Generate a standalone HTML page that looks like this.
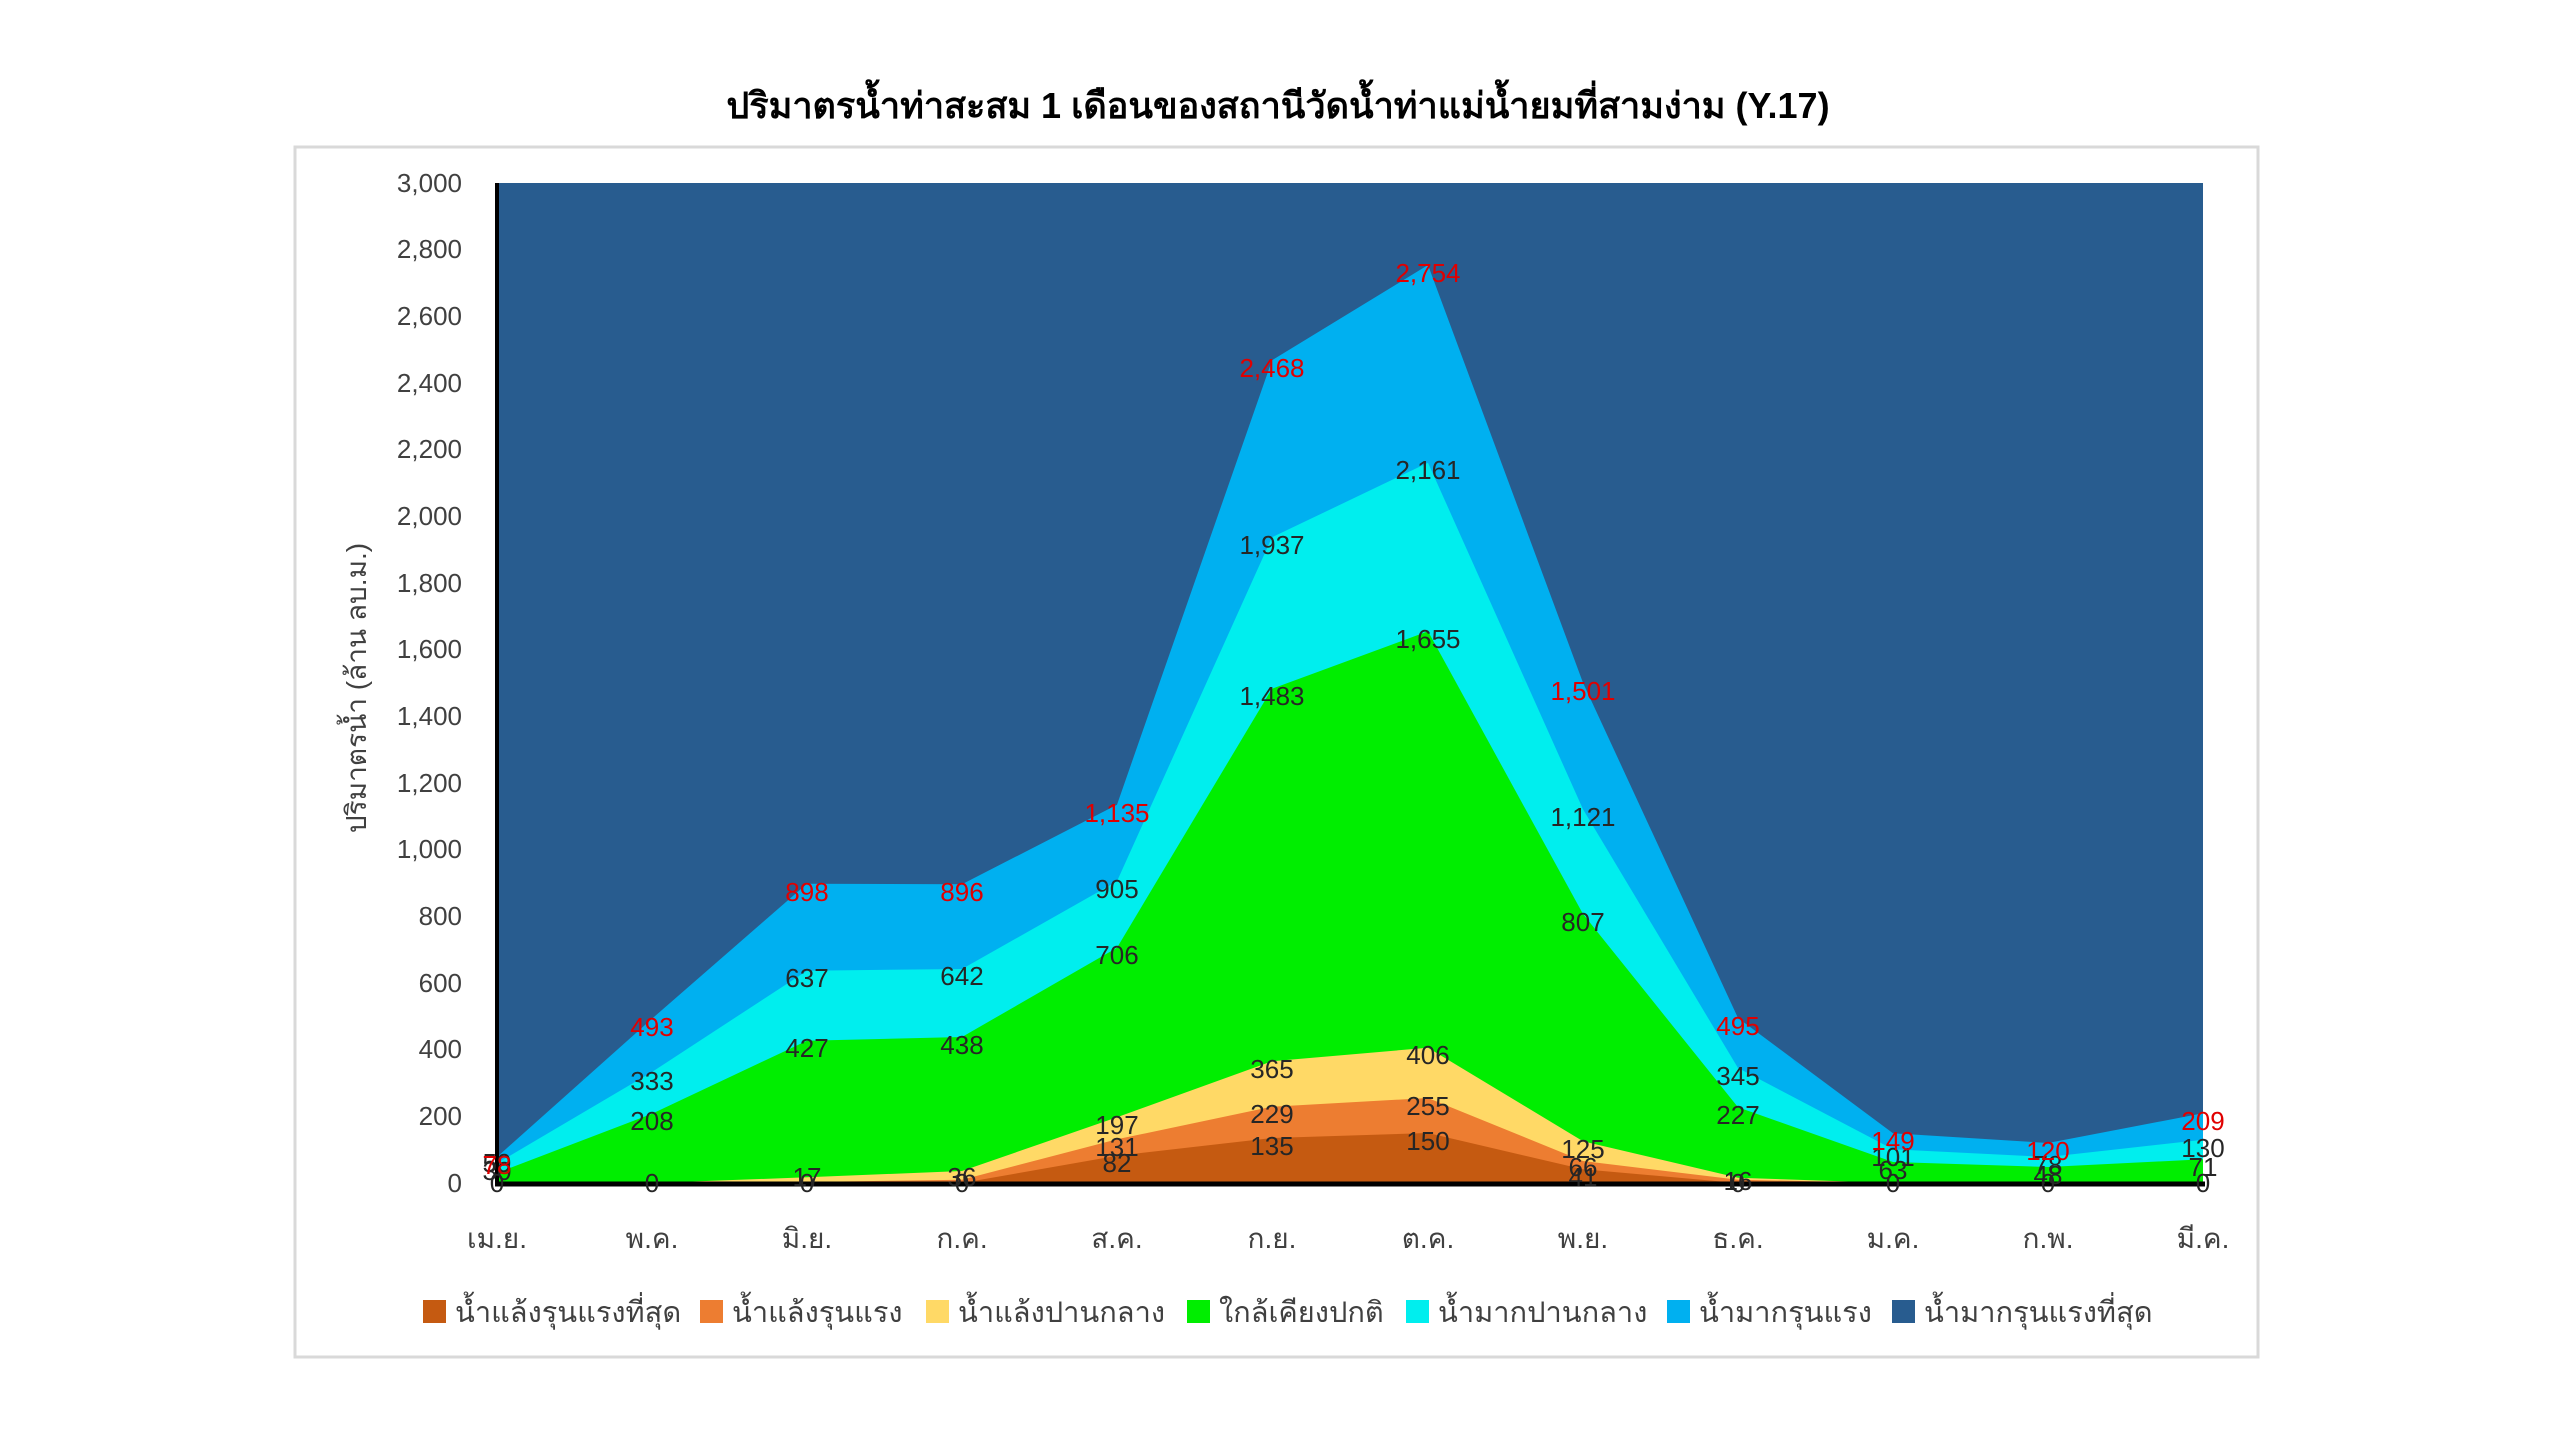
<!DOCTYPE html>
<html><head><meta charset="utf-8">
<style>
html,body{margin:0;padding:0;background:#fff;}
svg{display:block;}
text{font-family:"Liberation Sans","Noto Sans CJK SC","WenQuanYi Zen Hei",sans-serif;}
</style></head>
<body>
<svg width="2560" height="1440" viewBox="0 0 2560 1440" xmlns="http://www.w3.org/2000/svg">
<rect x="0" y="0" width="2560" height="1440" fill="#fff"/>
<rect x="295" y="147" width="1963" height="1210" fill="#fff" stroke="#d9d9d9" stroke-width="3"/>
<text x="1278" y="118" font-size="36" font-weight="bold" text-anchor="middle" fill="#000">ปริมาตรน้ำท่าสะสม 1 เดือนของสถานีวัดน้ำท่าแม่น้ำยมที่สามง่าม (Y.17)</text>

<!-- plot -->
<rect x="497" y="183" width="1706" height="1000" fill="#285c8f"/>
<polygon fill="#00b0f0" points="497,1157 652,1018.7 807,883.7 962,884.3 1117,804.7 1272,360.3 1428,265 1583,682.7 1738,1018 1893,1133.3 2048,1143 2203,1113.3 2203,1183 497,1183"/>
<polygon fill="#00eeee" points="497,1163.3 652,1072 807,970.7 962,969 1117,881.3 1272,537.3 1428,462.7 1583,809.3 1738,1068 1893,1149.3 2048,1157 2203,1139.7 2203,1183 497,1183"/>
<polygon fill="#00ee00" points="497,1173 652,1113.7 807,1040.7 962,1037 1117,947.7 1272,688.7 1428,631.3 1583,914 1738,1107.3 1893,1162 2048,1167 2203,1159.3 2203,1183 497,1183"/>
<polygon fill="#ffd966" points="497,1183 652,1183 807,1177.3 962,1171 1117,1117.3 1272,1061.3 1428,1047.7 1583,1141.3 1738,1177.7 1893,1183 2048,1183 2203,1183"/>
<polygon fill="#ed7d31" points="497,1183 652,1183 807,1182 962,1179.7 1117,1139.3 1272,1106.7 1428,1098 1583,1161 1738,1179.7 1893,1183 2048,1183 2203,1183"/>
<polygon fill="#c55a11" points="497,1183 652,1183 807,1183 962,1183 1117,1155.7 1272,1138 1428,1133 1583,1169.3 1738,1183 1893,1183 2048,1183 2203,1183"/>
<line x1="497" y1="183" x2="497" y2="1185" stroke="#000" stroke-width="4"/>
<line x1="495" y1="1184" x2="2205" y2="1184" stroke="#000" stroke-width="5"/>

<!-- y ticks -->
<g font-size="26" fill="#404040" text-anchor="end">
<text x="462" y="1192">0</text>
<text x="462" y="1125">200</text>
<text x="462" y="1058">400</text>
<text x="462" y="992">600</text>
<text x="462" y="925">800</text>
<text x="462" y="858">1,000</text>
<text x="462" y="792">1,200</text>
<text x="462" y="725">1,400</text>
<text x="462" y="658">1,600</text>
<text x="462" y="592">1,800</text>
<text x="462" y="525">2,000</text>
<text x="462" y="458">2,200</text>
<text x="462" y="392">2,400</text>
<text x="462" y="325">2,600</text>
<text x="462" y="258">2,800</text>
<text x="462" y="192">3,000</text>
</g>
<text transform="translate(366,688) rotate(-90)" font-size="28" fill="#404040" text-anchor="middle">ปริมาตรน้ำ (ล้าน ลบ.ม.)</text>

<!-- x labels -->
<g font-size="28" fill="#404040" text-anchor="middle">
<text x="497" y="1248">เม.ย.</text>
<text x="652" y="1248">พ.ค.</text>
<text x="807" y="1248">มิ.ย.</text>
<text x="962" y="1248">ก.ค.</text>
<text x="1117" y="1248">ส.ค.</text>
<text x="1272" y="1248">ก.ย.</text>
<text x="1428" y="1248">ต.ค.</text>
<text x="1583" y="1248">พ.ย.</text>
<text x="1738" y="1248">ธ.ค.</text>
<text x="1893" y="1248">ม.ค.</text>
<text x="2048" y="1248">ก.พ.</text>
<text x="2203" y="1248">มี.ค.</text>
</g>

<!-- data labels black -->
<g font-size="26" fill="#262626" text-anchor="middle">
<text x="497" y="1192">0</text><text x="652" y="1192">0</text><text x="807" y="1192">0</text><text x="962" y="1192">0</text>
<text x="1738" y="1192">0</text><text x="1893" y="1192">0</text><text x="2048" y="1192">0</text><text x="2203" y="1192">0</text>
<text x="497" y="1180">30</text><text x="497" y="1172">59</text>
<text x="652" y="1130">208</text><text x="652" y="1090">333</text>
<text x="807" y="1186">17</text><text x="807" y="1057">427</text><text x="807" y="987">637</text>
<text x="962" y="1186">36</text><text x="962" y="1054">438</text><text x="962" y="985">642</text>
<text x="1117" y="1172">82</text><text x="1117" y="1156">131</text><text x="1117" y="1134">197</text><text x="1117" y="964">706</text><text x="1117" y="898">905</text>
<text x="1272" y="1155">135</text><text x="1272" y="1123">229</text><text x="1272" y="1078">365</text><text x="1272" y="705">1,483</text><text x="1272" y="554">1,937</text>
<text x="1428" y="1150">150</text><text x="1428" y="1115">255</text><text x="1428" y="1064">406</text><text x="1428" y="648">1,655</text><text x="1428" y="479">2,161</text>
<text x="1583" y="1186">41</text><text x="1583" y="1176">66</text><text x="1583" y="1158">125</text><text x="1583" y="931">807</text><text x="1583" y="826">1,121</text>
<text x="1738" y="1190">16</text><text x="1738" y="1124">227</text><text x="1738" y="1085">345</text>
<text x="1893" y="1179">63</text><text x="1893" y="1166">101</text>
<text x="2048" y="1184">48</text><text x="2048" y="1174">78</text>
<text x="2203" y="1176">71</text><text x="2203" y="1157">130</text>
</g>
<!-- red labels -->
<g font-size="26" fill="#e00000" text-anchor="middle">
<text x="497" y="1174">78</text>
<text x="652" y="1036">493</text>
<text x="807" y="901">898</text>
<text x="962" y="901">896</text>
<text x="1117" y="822">1,135</text>
<text x="1272" y="377">2,468</text>
<text x="1428" y="282">2,754</text>
<text x="1583" y="700">1,501</text>
<text x="1738" y="1035">495</text>
<text x="1893" y="1150">149</text>
<text x="2048" y="1160">120</text>
<text x="2203" y="1130">209</text>
</g>

<!-- legend -->
<g font-size="29" fill="#404040">
<rect x="423" y="1300" width="23" height="23" fill="#c55a11"/><text x="455" y="1322">น้ำแล้งรุนแรงที่สุด</text>
<rect x="700" y="1300" width="23" height="23" fill="#ed7d31"/><text x="732" y="1322">น้ำแล้งรุนแรง</text>
<rect x="926" y="1300" width="23" height="23" fill="#ffd966"/><text x="958" y="1322">น้ำแล้งปานกลาง</text>
<rect x="1187" y="1300" width="23" height="23" fill="#00ee00"/><text x="1219" y="1322">ใกล้เคียงปกติ</text>
<rect x="1406" y="1300" width="23" height="23" fill="#00eeee"/><text x="1438" y="1322">น้ำมากปานกลาง</text>
<rect x="1667" y="1300" width="23" height="23" fill="#00b0f0"/><text x="1699" y="1322">น้ำมากรุนแรง</text>
<rect x="1892" y="1300" width="23" height="23" fill="#285c8f"/><text x="1924" y="1322">น้ำมากรุนแรงที่สุด</text>
</g>
</svg>
</body></html>
